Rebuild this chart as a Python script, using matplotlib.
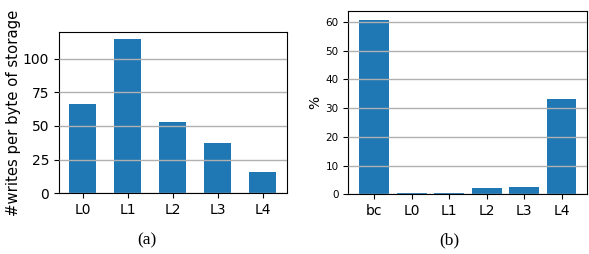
import matplotlib.pyplot as plt

levels_a = ['L0', 'L1', 'L2', 'L3', 'L4']
writes_per_byte = [66.2, 114.9, 52.9, 37.2, 15.9]

levels_b = ['bc', 'L0', 'L1', 'L2', 'L3', 'L4']
percent = [60.8, 0.45, 0.45, 2.2, 2.55, 33.3]

fig = plt.figure(figsize=(5.89, 2.54), dpi=100)

# (a) writes per byte of storage
ax1 = fig.add_axes([0.0997, 0.239, 0.387, 0.636])
ax1.bar(levels_a, writes_per_byte, width=0.6, color='#1f77b4', zorder=2)
ax1.set_ylim(0, 120)
ax1.set_yticks([0, 25, 50, 75, 100])
ax1.yaxis.grid(True, color='#b0b0b0', linewidth=1, zorder=3)
ax1.set_axisbelow(False)
ax1.set_ylabel('#writes per byte of storage', fontsize=10.7, labelpad=1)
ax1.tick_params(axis='both', labelsize=10)

# (b) percentage breakdown
ax2 = fig.add_axes([0.5914, 0.235, 0.4058, 0.722])
ax2.bar(levels_b, percent, width=0.8, color='#1f77b4', zorder=2)
ax2.yaxis.grid(True, color='#b0b0b0', linewidth=1, zorder=3)
ax2.set_axisbelow(False)
ax2.set_ylabel('%', fontsize=10, labelpad=2)
ax2.tick_params(axis='y', labelsize=7.5)
ax2.tick_params(axis='x', labelsize=10)

fig.text(0.25, 0.055, '(a)', ha='center', va='center', family='Liberation Serif', fontsize=12.5)
fig.text(0.763, 0.055, '(b)', ha='center', va='center', family='Liberation Serif', fontsize=12.5)

plt.savefig('out.png', dpi=100)
